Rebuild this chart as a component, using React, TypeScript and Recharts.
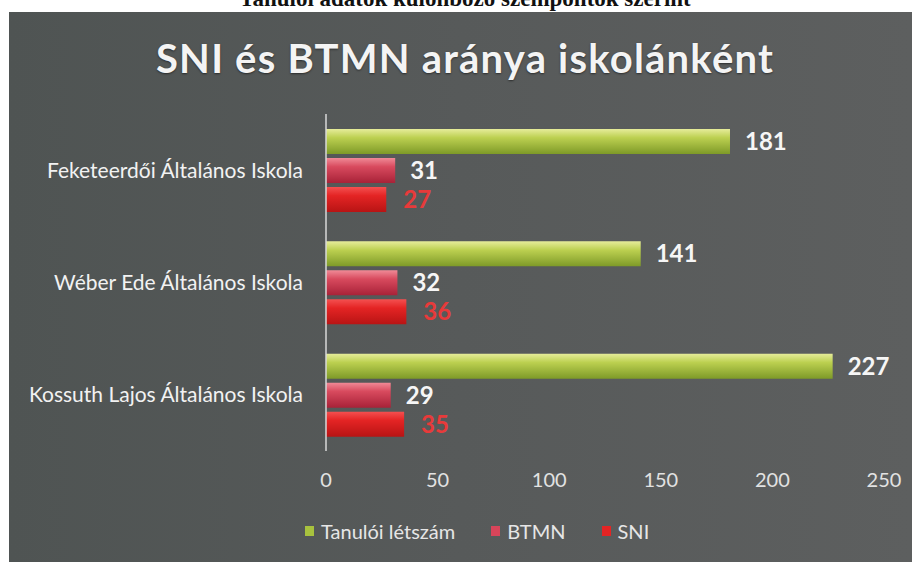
import { Bar, BarChart, LabelList, Legend, XAxis, YAxis } from "recharts";

const schools = ["Feketeerdői Általános Iskola", "Wéber Ede Általános Iskola", "Kossuth Lajos Általános Iskola"];
const students = [181, 141, 227];
const btmn = [31, 32, 29];
const sni = [27, 36, 35];
const xTicks = [0, 50, 100, 150, 200, 250];

const data = schools.map((name, i) => ({ name, students: students[i], btmn: btmn[i], sni: sni[i] }));

const legendItems = [
  { label: "Tanulói létszám", color: "#a8c23e" },
  { label: "BTMN", color: "#d8455a" },
  { label: "SNI", color: "#e42424" },
];

const font = "Lato, 'Open Sans', sans-serif";

function ChartLegend() {
  return (
    <div style={{ height: 66, display: "flex", alignItems: "center", paddingLeft: 296, boxSizing: "border-box", paddingTop: 4 }}>
      {legendItems.map((it) => (
        <div key={it.label} style={{ display: "flex", alignItems: "center", marginRight: 36, color: "#e6e6e6", fontSize: 20, fontFamily: font }}>
          <span style={{ width: 9, height: 10, background: it.color, marginRight: 7, display: "inline-block" }} />
          {it.label}
        </div>
      ))}
    </div>
  );
}

export default function App() {
  return (
    <div style={{ position: "absolute", top: 0, left: 0, width: 912, height: 562, background: "#fff", overflow: "hidden" }}>
      <div style={{ position: "absolute", top: 0, left: 0, width: 912, height: 12, overflow: "hidden" }}>
        <div style={{ position: "absolute", top: -14, left: 0, width: 930, textAlign: "center", fontFamily: "'Liberation Serif', serif", fontWeight: 700, fontSize: 23, color: "#111", lineHeight: "26px" }}>
          Tanulói adatok különböző szempontok szerint
        </div>
      </div>
      <div style={{ position: "absolute", top: 12, left: 9, width: 903, height: 550, background: "linear-gradient(90deg, #4f5453 0%, #575a5a 50%, #5d5f5f 100%)" }}>
        <div style={{ position: "absolute", top: 22, left: 0, width: 912, textAlign: "center", color: "#f4f4f4", fontFamily: font, fontWeight: 700, fontSize: 40, letterSpacing: 1.2, textShadow: "0 1px 2px rgba(0,0,0,0.5)" }}>
          SNI és BTMN aránya iskolánként
        </div>
        <BarChart width={903} height={550} data={data} layout="vertical" margin={{ top: 102, right: 28, bottom: 0, left: 0 }} barSize={25} barGap={4}>
          <defs>
            <linearGradient id="gGreen" x1="0" y1="0" x2="0" y2="1">
              <stop offset="0%" stopColor="#e6ec9a" />
              <stop offset="35%" stopColor="#bcd050" />
              <stop offset="100%" stopColor="#7e9a28" />
            </linearGradient>
            <linearGradient id="gBtmn" x1="0" y1="0" x2="0" y2="1">
              <stop offset="0%" stopColor="#f08a96" />
              <stop offset="35%" stopColor="#d84a5e" />
              <stop offset="100%" stopColor="#a82238" />
            </linearGradient>
            <linearGradient id="gSni" x1="0" y1="0" x2="0" y2="1">
              <stop offset="0%" stopColor="#f45050" />
              <stop offset="35%" stopColor="#e42424" />
              <stop offset="100%" stopColor="#b81414" />
            </linearGradient>
          </defs>
          <XAxis
            type="number"
            domain={[0, 250]}
            ticks={xTicks}
            axisLine={false}
            tickLine={false}
            tickSize={0}
            tickMargin={22}
            height={45}
            tick={{ fill: "#e2e2e2", fontSize: 20, fontFamily: font }}
          />
          <YAxis
            type="category"
            dataKey="name"
            width={317}
            axisLine={{ stroke: "#d8d8d8", strokeWidth: 1.5 }}
            tickLine={false}
            tickSize={0}
            tickMargin={23}
            tick={{ fill: "#f2f2f2", fontSize: 21, fontFamily: font }}
          />
          <Legend verticalAlign="bottom" content={() => <ChartLegend />} />
          <Bar dataKey="students" name="Tanulói létszám" fill="url(#gGreen)" isAnimationActive={false}>
            <LabelList dataKey="students" position="right" offset={15} fill="#f6f6f6" fontSize={24} fontWeight={700} fontFamily={font} />
          </Bar>
          <Bar dataKey="btmn" name="BTMN" fill="url(#gBtmn)" isAnimationActive={false}>
            <LabelList dataKey="btmn" position="right" offset={15} fill="#f6f6f6" fontSize={24} fontWeight={700} fontFamily={font} />
          </Bar>
          <Bar dataKey="sni" name="SNI" fill="url(#gSni)" isAnimationActive={false}>
            <LabelList dataKey="sni" position="right" offset={17} fill="#e83a3a" fontSize={24} fontWeight={700} fontFamily={font} />
          </Bar>
        </BarChart>
      </div>
    </div>
  );
}
